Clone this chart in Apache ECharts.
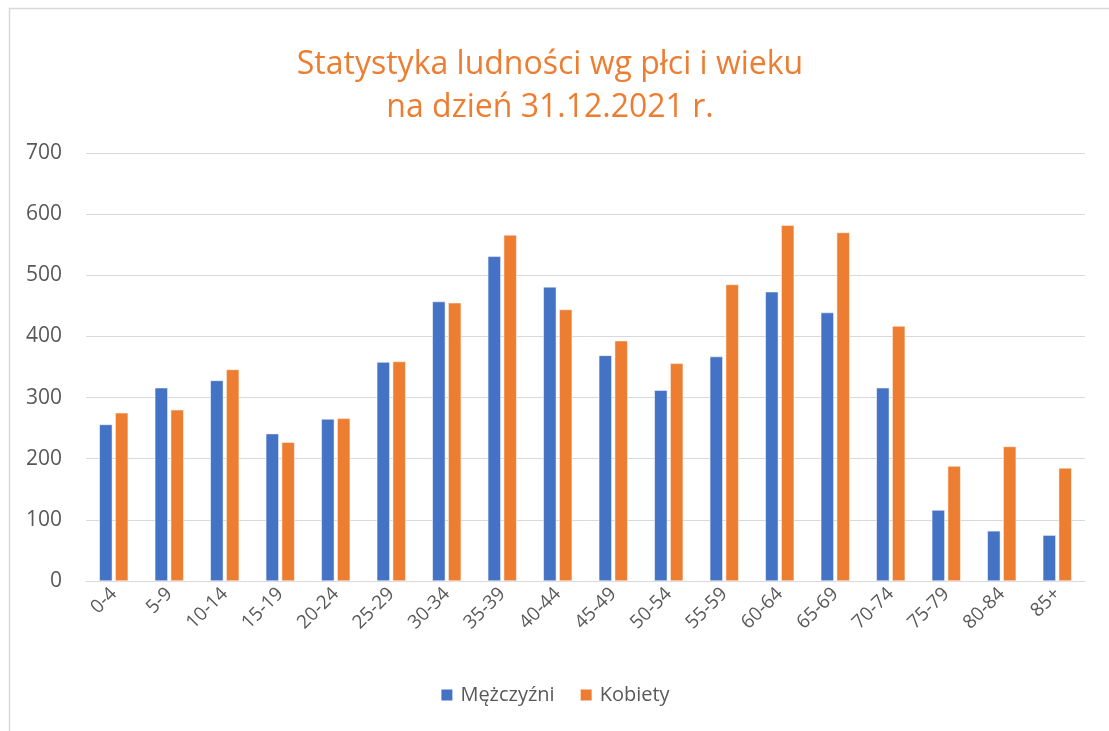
<!DOCTYPE html>
<html>
<head>
<meta charset="utf-8">
<title>Statystyka ludności</title>
<script src="https://cdn.jsdelivr.net/npm/echarts@6/dist/echarts.min.js"></script>
<style>
  html, body { margin: 0; padding: 0; background: #fff; }
  #wykres { width: 1109px; height: 731px; }
</style>
</head>
<body>
<div id="wykres"></div>
<script>
// grupy wieku
const grupyWieku = ['0-4', '5-9', '10-14', '15-19', '20-24', '25-29', '30-34', '35-39', '40-44',
  '45-49', '50-54', '55-59', '60-64', '65-69', '70-74', '75-79', '80-84', '85+'];

// liczba mężczyzn / kobiet w każdej grupie
const mezczyzni = [256, 316, 328, 241, 265, 358, 457, 531, 481, 369, 312, 367, 473, 439, 316, 116, 82, 75];
const kobiety = [275, 280, 346, 227, 266, 359, 455, 566, 444, 393, 356, 485, 582, 570, 417, 188, 220, 185];

const osY = { min: 0, max: 700, interval: 100 };

const czcionka = "'Open Sans', 'Noto Sans', sans-serif";
const szary = '#595959';

var grafico = echarts.init(document.getElementById('wykres'));
var opcoes = {
  animation: false,
  backgroundColor: '#ffffff',
  color: ['#4472C4', '#ED7D31'],
  // ramka obszaru wykresu
  graphic: [{
    type: 'rect',
    shape: { x: 9.5, y: 8.5, width: 1200, height: 900 },
    style: { fill: 'none', stroke: '#D9D9D9', lineWidth: 1.5 },
    silent: true
  }],
  title: {
    text: 'Statystyka ludności wg płci i wieku\nna dzień 31.12.2021 r.',
    left: 545,
    top: 38,
    textAlign: 'center',
    textStyle: {
      color: '#ED7D31',
      fontFamily: czcionka,
      fontWeight: 'normal',
      fontSize: 32,
      lineHeight: 43
    }
  },
  legend: {
    bottom: 21,
    left: 'center',
    itemWidth: 13,
    itemHeight: 13,
    itemGap: 24,
    icon: 'rect',
    textStyle: { color: szary, fontFamily: czcionka, fontSize: 20, padding: [0, 0, 0, 2] },
    data: ['Mężczyźni', 'Kobiety']
  },
  grid: { left: 86, right: 24, top: 153, bottom: 150 },
  xAxis: {
    type: 'category',
    data: grupyWieku,
    axisLine: { lineStyle: { color: '#D9D9D9', width: 1 } },
    axisTick: { show: false },
    axisLabel: {
      rotate: 45,
      margin: 10,
      interval: 0,
      color: szary,
      fontFamily: czcionka,
      fontSize: 19
    }
  },
  yAxis: {
    type: 'value',
    min: osY.min,
    max: osY.max,
    interval: osY.interval,
    axisLine: { show: false },
    axisTick: { show: false },
    splitLine: { lineStyle: { color: '#D9D9D9', width: 1 } },
    axisLabel: {
      margin: 24,
      color: szary,
      fontFamily: czcionka,
      fontSize: 21
    }
  },
  series: [
    {
      name: 'Mężczyźni',
      type: 'bar',
      data: mezczyzni,
      barWidth: 13,
      barGap: '22%',
      itemStyle: { color: '#4472C4', borderColor: '#ffffff', borderWidth: 0.5 }
    },
    {
      name: 'Kobiety',
      type: 'bar',
      data: kobiety,
      barWidth: 13,
      itemStyle: { color: '#ED7D31', borderColor: '#ffffff', borderWidth: 0.5 }
    }
  ]
};

grafico.setOption(opcoes);
window.addEventListener('resize', () => grafico.resize());
</script>
</body>
</html>
